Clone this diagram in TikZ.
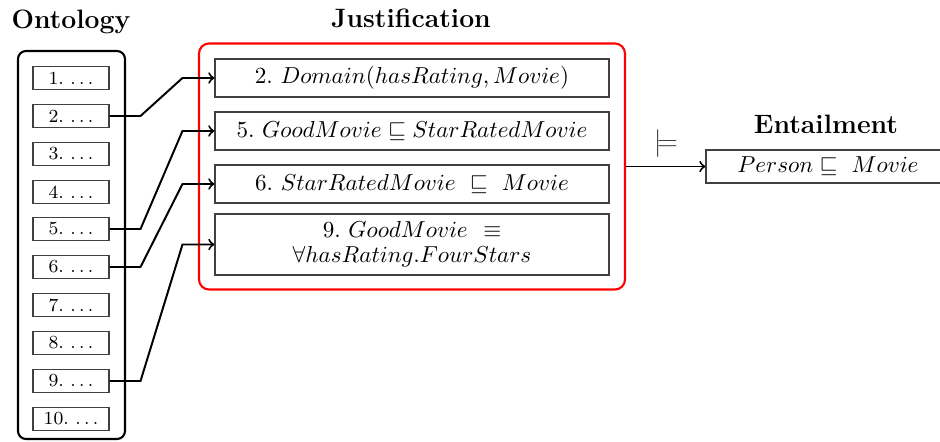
\documentclass[tikz,border=0pt]{standalone}
\usetikzlibrary{calc}
\def\u{0.433pt}
\tikzset{
  ontitem/.style={draw=black!75, line width=0.45pt, minimum width=76*\u, minimum height=23*\u, inner sep=0pt, font=\footnotesize},
  justitem/.style={draw=black!75, line width=0.45pt, minimum width=394*\u, minimum height=38*\u, inner sep=0pt},
  titlelab/.style={font=\fontsize{11.5}{13}\selectfont\bfseries, anchor=base, inner sep=0pt},
  link/.style={draw, line width=0.85pt, ->},
}
\begin{document}
\begin{tikzpicture}[x=0.433pt,y=-0.433pt]
\useasboundingbox (0,0) rectangle (940,441);
% titles
\node[titlelab] (tont) at (71,28) {Ontology};
\node[titlelab] (tjust) at (411,27) {Justification};
\node[titlelab] (tent) at (826,133) {Entailment};
% containers
\node[draw, line width=0.9pt, rounded corners=8*\u, minimum width=107*\u, minimum height=388*\u, inner sep=0pt] (ont) at (71.5,245) {};
\node[draw=red, line width=0.9pt, rounded corners=10*\u, minimum width=426*\u, minimum height=246*\u, inner sep=0pt] (just) at (412,166.5) {};
% ontology items
\foreach \i/\yy in {1/78,2/116,3/154,4/192,5/229,6/267,7/305,8/343,9/381,10/419}{
  \node[ontitem] (o\i) at (71,\yy) {\i.~$\ldots$};
}
% justification items
\node[justitem] (j2) at (412,78) {2.~$Domain(hasRating,Movie)$};
\node[justitem] (j5) at (412,131) {5.~$GoodMovie \sqsubseteq StarRatedMovie$};
\node[justitem] (j6) at (412,184) {6.~$StarRatedMovie\ \sqsubseteq\ Movie$};
\node[justitem, minimum height=61*\u, align=center, font=\fontsize{10}{11}\selectfont] (j9) at (412,244.5) {9.~$GoodMovie$\ \ $\equiv$\\$\forall hasRating.FourStars$};
% entailment
\node[draw=black!75, line width=0.45pt, minimum width=244*\u, minimum height=33*\u, inner sep=0pt] (ent) at (828,166.5) {$Person\sqsubseteq\ Movie$};
% connectors
\foreach \s/\t in {2/2,5/5,6/6,9/9}{
  \draw[link] (o\s.east) -- ++(31,0) -- ([xshift=-32*\u]j\t.west) -- (j\t.west);
}
\draw[link] (just.east) -- (ent.west);
\node[font=\large, text=black!75, inner sep=0pt] (models) at (666,143.5) {$\models$};
\end{tikzpicture}
\end{document}
